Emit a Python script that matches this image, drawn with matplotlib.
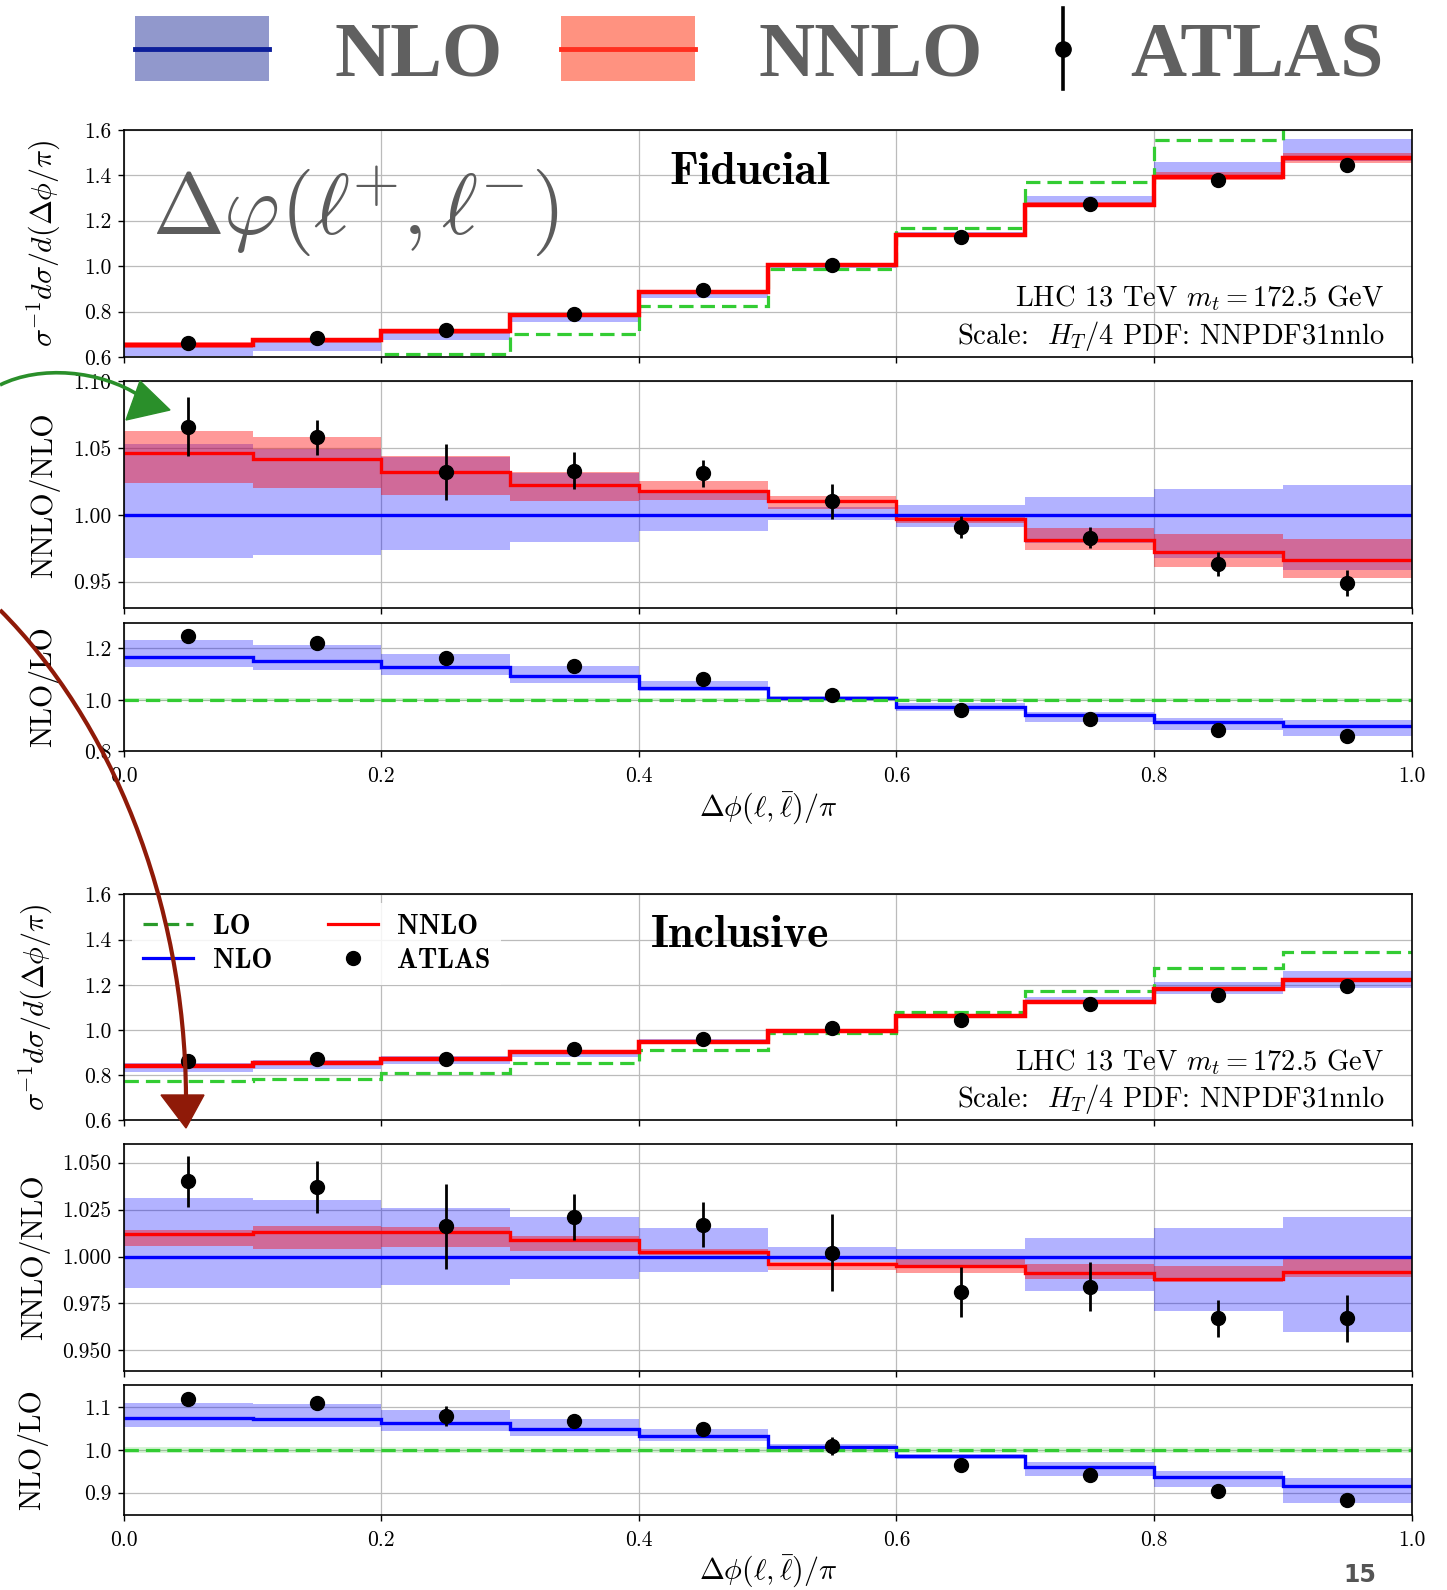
import numpy as np
import matplotlib
matplotlib.use("Agg")
import matplotlib.pyplot as plt
from matplotlib.patches import Rectangle, Polygon, PathPatch
from matplotlib.path import Path
from matplotlib.lines import Line2D
from matplotlib.ticker import FormatStrFormatter

plt.rcParams['font.family'] = ['cmr10', 'DejaVu Serif']
plt.rcParams['mathtext.fontset'] = 'cm'
plt.rcParams['axes.formatter.use_mathtext'] = True
plt.rcParams['axes.unicode_minus'] = False

# ---------------- data ----------------
bin_edges = [0.0, 0.1, 0.2, 0.3, 0.4, 0.5, 0.6, 0.7, 0.8, 0.9, 1.0]
x_ticks = [0.0, 0.2, 0.4, 0.6, 0.8, 1.0]

# Fiducial: normalised distribution
fid_lo = [0.534, 0.558, 0.615, 0.700, 0.823, 0.985, 1.169, 1.368, 1.554, 1.700]
fid_nlo_band_lo = [0.605, 0.628, 0.675, 0.752, 0.858, 0.990, 1.131, 1.266, 1.387, 1.463]
fid_nlo_band_hi = [0.658, 0.679, 0.723, 0.791, 0.878, 1.000, 1.149, 1.310, 1.460, 1.560]
fid_nnlo = [0.654, 0.674, 0.715, 0.784, 0.884, 1.004, 1.138, 1.268, 1.393, 1.474]
fid_nnlo_band_lo = [0.640, 0.660, 0.703, 0.775, 0.878, 0.998, 1.135, 1.259, 1.377, 1.454]
fid_nnlo_band_hi = [0.665, 0.684, 0.723, 0.792, 0.890, 1.008, 1.141, 1.280, 1.413, 1.498]
fid_data = [0.663, 0.684, 0.718, 0.791, 0.893, 1.005, 1.130, 1.271, 1.378, 1.445]
fid_err = [0.022, 0.013, 0.021, 0.014, 0.010, 0.013, 0.008, 0.008, 0.009, 0.010]
# Fiducial: NNLO/NLO
fid_r1_nnlo = [1.046, 1.042, 1.032, 1.022, 1.018, 1.010, 0.997, 0.981, 0.972, 0.966]
fid_r1_nnlo_lo = [1.024, 1.020, 1.015, 1.010, 1.011, 1.004, 0.994, 0.974, 0.961, 0.953]
fid_r1_nnlo_hi = [1.063, 1.058, 1.044, 1.032, 1.025, 1.014, 1.000, 0.990, 0.986, 0.982]
fid_r1_nlo_lo = [0.968, 0.970, 0.974, 0.980, 0.988, 0.996, 0.991, 0.979, 0.968, 0.959]
fid_r1_nlo_hi = [1.053, 1.049, 1.043, 1.031, 1.018, 1.006, 1.007, 1.013, 1.019, 1.022]
fid_r1_data = [1.066, 1.058, 1.032, 1.033, 1.031, 1.010, 0.991, 0.983, 0.963, 0.949]
# Fiducial: NLO/LO
fid_r2_nlo = [1.167, 1.151, 1.128, 1.092, 1.048, 1.009, 0.973, 0.940, 0.915, 0.900]
fid_r2_nlo_lo = [1.128, 1.115, 1.097, 1.067, 1.035, 0.999, 0.957, 0.916, 0.882, 0.860]
fid_r2_nlo_hi = [1.232, 1.212, 1.177, 1.130, 1.074, 1.016, 0.987, 0.955, 0.931, 0.922]
fid_r2_data = [1.249, 1.220, 1.162, 1.131, 1.082, 1.019, 0.961, 0.925, 0.882, 0.858]

# Inclusive: normalised distribution
inc_lo = [0.773, 0.783, 0.811, 0.854, 0.913, 0.985, 1.080, 1.172, 1.273, 1.344]
inc_nlo_band_lo = [0.815, 0.827, 0.850, 0.882, 0.937, 0.998, 1.063, 1.113, 1.161, 1.184]
inc_nlo_band_hi = [0.855, 0.866, 0.885, 0.912, 0.959, 1.006, 1.072, 1.145, 1.214, 1.259]
inc_nnlo = [0.839, 0.852, 0.874, 0.901, 0.947, 0.997, 1.063, 1.124, 1.182, 1.223]
inc_nnlo_band_lo = [0.834, 0.844, 0.867, 0.896, 0.946, 0.994, 1.059, 1.121, 1.180, 1.219]
inc_nnlo_band_hi = [0.841, 0.855, 0.876, 0.903, 0.948, 0.998, 1.067, 1.130, 1.190, 1.232]
inc_data = [0.861, 0.871, 0.874, 0.914, 0.959, 1.007, 1.045, 1.114, 1.156, 1.194]
inc_err = [0.0137, 0.014, 0.0227, 0.0123, 0.012, 0.0206, 0.0132, 0.0132, 0.010, 0.0124]
# Inclusive: NNLO/NLO
inc_r1_nnlo = [1.012, 1.013, 1.013, 1.009, 1.0025, 0.996, 0.995, 0.991, 0.988, 0.992]
inc_r1_nnlo_lo = [1.0055, 1.004, 1.005, 1.003, 1.001, 0.993, 0.991, 0.988, 0.9866, 0.989]
inc_r1_nnlo_hi = [1.0143, 1.016, 1.0157, 1.0107, 1.004, 0.9972, 0.9986, 0.996, 0.9947, 0.9989]
inc_r1_nlo_lo = [0.983, 0.983, 0.985, 0.988, 0.992, 0.997, 0.995, 0.9815, 0.971, 0.960]
inc_r1_nlo_hi = [1.031, 1.030, 1.026, 1.021, 1.015, 1.005, 1.004, 1.010, 1.015, 1.021]
inc_r1_data = [1.040, 1.037, 1.016, 1.021, 1.017, 1.002, 0.981, 0.984, 0.967, 0.967]
# Inclusive: NLO/LO
inc_r2_nlo = [1.076, 1.072, 1.064, 1.049, 1.032, 1.008, 0.985, 0.960, 0.936, 0.915]
inc_r2_nlo_lo = [1.054, 1.053, 1.045, 1.033, 1.020, 1.002, 0.978, 0.939, 0.913, 0.876]
inc_r2_nlo_hi = [1.111, 1.107, 1.093, 1.072, 1.049, 1.014, 0.991, 0.971, 0.952, 0.935]
inc_r2_data = [1.119, 1.111, 1.080, 1.068, 1.049, 1.010, 0.965, 0.942, 0.905, 0.884]

lo_ratio_band = [0.994, 1.006]

edges = np.array(bin_edges)
centers = 0.5 * (edges[:-1] + edges[1:])

C_GREEN = '#33cc33'
DASH = (0, (4.5, 2.2))
TICK_FS = 15.5
LABEL_FS = 21.5

fig = plt.figure(figsize=(14.47, 15.90), dpi=100)
L, W = 0.0855, 0.8900


def style(ax, ylim, yticks, yfmt, xlabels):
    ax.set_xlim(0, 1)
    ax.set_ylim(*ylim)
    ax.set_yticks(yticks)
    ax.yaxis.set_major_formatter(FormatStrFormatter(yfmt))
    ax.set_xticks(x_ticks)
    ax.xaxis.set_major_formatter(FormatStrFormatter('%.1f'))
    ax.grid(True, color='#bbbbbb', lw=0.9)
    ax.set_axisbelow(True)
    ax.tick_params(labelsize=TICK_FS, length=4, width=1, direction='out')
    ax.tick_params(axis='x', pad=7)
    ax.tick_params(axis='y', pad=5)
    if not xlabels:
        ax.tick_params(labelbottom=False)
    for s in ax.spines.values():
        s.set_linewidth(1.2)


def main_panel(ax, lo, nb_lo, nb_hi, nnlo, nn_lo, nn_hi, data, err):
    ax.stairs(nb_hi, edges, baseline=nb_lo, fill=True, color='blue', alpha=0.3, lw=0)
    ax.stairs(nn_hi, edges, baseline=nn_lo, fill=True, color='red', alpha=0.4, lw=0)
    ax.stairs(lo, edges, baseline=None, color=C_GREEN, lw=2.3, ls=DASH)
    ax.stairs(nnlo, edges, baseline=None, color='red', lw=3.2)
    ax.errorbar(centers, data, yerr=err, fmt='o', color='k', ms=10,
                elinewidth=2, capsize=0, zorder=5)
    style(ax, (0.6, 1.6), [0.6, 0.8, 1.0, 1.2, 1.4, 1.6], '%.1f', False)
    ax.set_ylabel(r'$\sigma^{-1}d\sigma/d(\Delta\phi/\pi)$', fontsize=LABEL_FS)


def r1_panel(ax, nl_lo, nl_hi, nn, nn_lo, nn_hi, data, err, ylim, yticks, yfmt):
    ax.stairs(nl_hi, edges, baseline=nl_lo, fill=True, color='blue', alpha=0.3, lw=0)
    ax.stairs(nn_hi, edges, baseline=nn_lo, fill=True, color='red', alpha=0.4, lw=0)
    ax.axhline(1.0, color='blue', lw=2.4)
    ax.stairs(nn, edges, baseline=None, color='red', lw=2.4)
    ax.errorbar(centers, data, yerr=err, fmt='o', color='k', ms=10,
                elinewidth=2, capsize=0, zorder=5)
    style(ax, ylim, yticks, yfmt, False)
    ax.set_ylabel('NNLO/NLO', fontsize=LABEL_FS)


def r2_panel(ax, nl, nl_lo, nl_hi, data, err, ylim, yticks):
    ax.axhspan(lo_ratio_band[0], lo_ratio_band[1], color=C_GREEN, alpha=0.2, lw=0)
    ax.axhline(1.0, color=C_GREEN, lw=2.3, ls=DASH)
    ax.stairs(nl_hi, edges, baseline=nl_lo, fill=True, color='blue', alpha=0.3, lw=0)
    ax.stairs(nl, edges, baseline=None, color='blue', lw=2.4)
    ax.errorbar(centers, data, yerr=err, fmt='o', color='k', ms=10,
                elinewidth=2, capsize=0, zorder=5)
    style(ax, ylim, yticks, '%.1f', True)
    ax.set_ylabel('NLO/LO', fontsize=LABEL_FS)
    ax.set_xlabel(r'$\Delta\phi(\ell,\bar{\ell})/\pi$', fontsize=LABEL_FS, labelpad=3)


def info_text(ax, y1, y2):
    ax.text(0.979, y1, r'LHC 13 TeV $m_t = 172.5$ GeV', transform=ax.transAxes,
            fontsize=20.5, ha='right', va='center')
    ax.text(0.979, y2, r'Scale:  $H_T/4$ PDF: NNPDF31nnlo', transform=ax.transAxes,
            fontsize=20.5, ha='right', va='center')


# ---------- Fiducial group ----------
ax1 = fig.add_axes([L, 0.7755, W, 0.1429])
main_panel(ax1, fid_lo, fid_nlo_band_lo, fid_nlo_band_hi, fid_nnlo,
           fid_nnlo_band_lo, fid_nnlo_band_hi, fid_data, fid_err)
ax1.yaxis.set_label_coords(-0.047, 0.5)
ax1.text(0.4236, 0.81, 'Fiducial', transform=ax1.transAxes, fontsize=33,
         family='cmb10', ha='left', va='center')
ax1.text(0.18, 0.64, r'$\Delta\varphi(\ell^{\!\!+}\!,\ell^{\!\!-}\!)$', transform=ax1.transAxes,
         fontsize=62, color='#5c5c5c', ha='center', va='center')
info_text(ax1, 0.258, 0.093)

ax2 = fig.add_axes([L, 0.6174, W, 0.1428])
r1_panel(ax2, fid_r1_nlo_lo, fid_r1_nlo_hi, fid_r1_nnlo, fid_r1_nnlo_lo, fid_r1_nnlo_hi,
         fid_r1_data, fid_err, (0.93, 1.10), [0.95, 1.00, 1.05, 1.10], '%.2f')
ax2.yaxis.set_label_coords(-0.049, 0.5)

ax3 = fig.add_axes([L, 0.5274, W, 0.0810])
r2_panel(ax3, fid_r2_nlo, fid_r2_nlo_lo, fid_r2_nlo_hi, fid_r2_data, fid_err,
         (0.8, 1.3), [0.8, 1.0, 1.2])
ax3.yaxis.set_label_coords(-0.0505, 0.5)

# ---------- Inclusive group ----------
ax4 = fig.add_axes([L, 0.2953, W, 0.1422])
main_panel(ax4, inc_lo, inc_nlo_band_lo, inc_nlo_band_hi, inc_nnlo,
           inc_nnlo_band_lo, inc_nnlo_band_hi, inc_data, inc_err)
ax4.yaxis.set_label_coords(-0.053, 0.5)
ax4.text(0.4094, 0.82, 'Inclusive', transform=ax4.transAxes, fontsize=33,
         family='cmb10', ha='left', va='center')
info_text(ax4, 0.26, 0.094)
handles = [Line2D([], [], color='#2a9a2a', ls=DASH, lw=2.3),
           Line2D([], [], color='blue', lw=2.3),
           Line2D([], [], color='red', lw=2.3),
           Line2D([], [], color='k', marker='o', ls='none', ms=10)]
leg = ax4.legend(handles, ['LO', 'NLO', 'NNLO', 'ATLAS'], ncol=2, loc='upper left',
                 bbox_to_anchor=(0.0, 1.0), borderaxespad=0.3, frameon=True,
                 framealpha=0.85, edgecolor='none', fancybox=False,
                 prop={'family': 'cmb10', 'size': 20}, handlelength=1.8,
                 handletextpad=0.7, columnspacing=2.0, labelspacing=0.3)

ax5 = fig.add_axes([L, 0.1377, W, 0.1429])
r1_panel(ax5, inc_r1_nlo_lo, inc_r1_nlo_hi, inc_r1_nnlo, inc_r1_nnlo_lo, inc_r1_nnlo_hi,
         inc_r1_data, inc_err, (0.939, 1.06), [0.950, 0.975, 1.000, 1.025, 1.050], '%.3f')
ax5.yaxis.set_label_coords(-0.0568, 0.5)

ax6 = fig.add_axes([L, 0.0472, W, 0.0817])
r2_panel(ax6, inc_r2_nlo, inc_r2_nlo_lo, inc_r2_nlo_hi, inc_r2_data, inc_err,
         (0.848, 1.152), [0.9, 1.0, 1.1])
ax6.yaxis.set_label_coords(-0.0584, 0.5)

# ---------- slide header legend ----------
tf = fig.transFigure
fig.add_artist(Rectangle((0.0932, 0.949), 0.0925, 0.0408, transform=tf,
                         facecolor='#9198cc', edgecolor='none'))
fig.add_artist(Line2D([0.0932, 0.1857], [0.9694, 0.9694], transform=tf,
                      color='#0d1f9a', lw=3.5))
fig.add_artist(Rectangle((0.3875, 0.949), 0.0925, 0.0408, transform=tf,
                         facecolor='#ff9280', edgecolor='none'))
fig.add_artist(Line2D([0.3875, 0.48], [0.9694, 0.9694], transform=tf,
                      color='#ff3020', lw=3.5))
fig.add_artist(Line2D([0.7344, 0.7344], [0.9439, 0.9949], transform=tf,
                      color='k', lw=2.6))
fig.add_artist(Line2D([0.7344], [0.9694], transform=tf, color='k', marker='o',
                      ms=11, ls='none'))
for xt, s in [(0.2312, 'NLO'), (0.5242, 'NNLO'), (0.7813, 'ATLAS')]:
    fig.text(xt, 0.9522, s, fontsize=56, family='Liberation Serif', weight='bold',
             color='#606060', ha='left', va='baseline')

# page number
fig.text(1343 / 1447, 1 - 1563 / 1590, '15', fontsize=17, family='DejaVu Sans',
         weight='bold', color='#555555', ha='left', va='top')

# ---------- hand-drawn arrows overlay ----------
ov = fig.add_axes([0, 0, 1, 1], zorder=20)
ov.set_xlim(0, 1447)
ov.set_ylim(1590, 0)
ov.axis('off')
ov.patch.set_alpha(0)
g_path = Path([(0, 385), (40, 365), (100, 370), (140, 396)],
              [Path.MOVETO, Path.CURVE4, Path.CURVE4, Path.CURVE4])
ov.add_patch(PathPatch(g_path, facecolor='none', edgecolor='#2a8f2a', lw=2.6))
ov.add_patch(Polygon([(140, 381), (170, 410), (126, 420)], closed=True,
                     facecolor='#2a8f2a', edgecolor='#2a8f2a'))
r_path = Path([(0, 610), (110, 720), (185, 900), (186, 1097)],
              [Path.MOVETO, Path.CURVE4, Path.CURVE4, Path.CURVE4])
ov.add_patch(PathPatch(r_path, facecolor='none', edgecolor='#8f1a08', lw=3.0))
ov.add_patch(Polygon([(161, 1095), (204, 1095), (186, 1128)], closed=True,
                     facecolor='#8f1a08', edgecolor='#8f1a08'))

fig.savefig('out.png', dpi=100)
